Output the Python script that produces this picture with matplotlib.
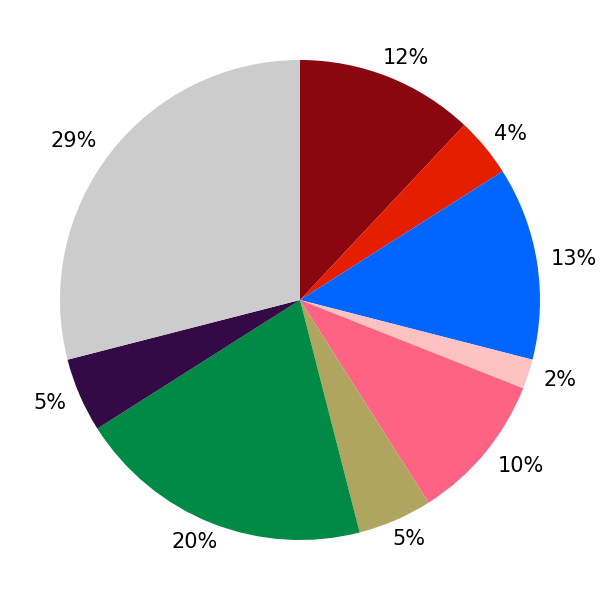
import numpy as np
import matplotlib
matplotlib.use("Agg")
import matplotlib.pyplot as plt

# slice values (percent), clockwise from the top
values = [12, 4, 13, 2, 10, 5, 20, 5, 29]
colors = ['#8B0710', '#E61E00', '#0066FF', '#FFC2C2', '#FF6384',
          '#B0A55E', '#008A45', '#330A45', '#CCCCCC']

fig = plt.figure(figsize=(6, 6), dpi=100)
ax = fig.add_axes([0, 0, 1, 1])
wedges, texts, autotexts = ax.pie(values, colors=colors, startangle=90,
                                  counterclock=False, autopct='%d%%',
                                  pctdistance=1.1,
                                  textprops={'fontsize': 15, 'color': 'black'})
ax.set_xlim(-1.25, 1.25)
ax.set_ylim(-1.25, 1.25)
ax.set_aspect('equal')
ax.axis('off')

# push labels outward by their own size, keep them inside the canvas
fig.canvas.draw()
renderer = fig.canvas.get_renderer()
px = 2.5 / 600.0  # data units per pixel
for w, t in zip(wedges, autotexts):
    ang = np.deg2rad((w.theta1 + w.theta2) / 2)
    bb = t.get_window_extent(renderer)
    tw = bb.width * px
    th = bb.height * px
    x = (1 + tw) * np.cos(ang)
    y = (1 + th) * np.sin(ang)
    lim = 1.25 - 3 * px
    x = min(max(x, -lim + tw / 2), lim - tw / 2)
    t.set_position((x, y))
    t.set_ha('center')
    t.set_va('center')

fig.savefig('out.png', dpi=100)
